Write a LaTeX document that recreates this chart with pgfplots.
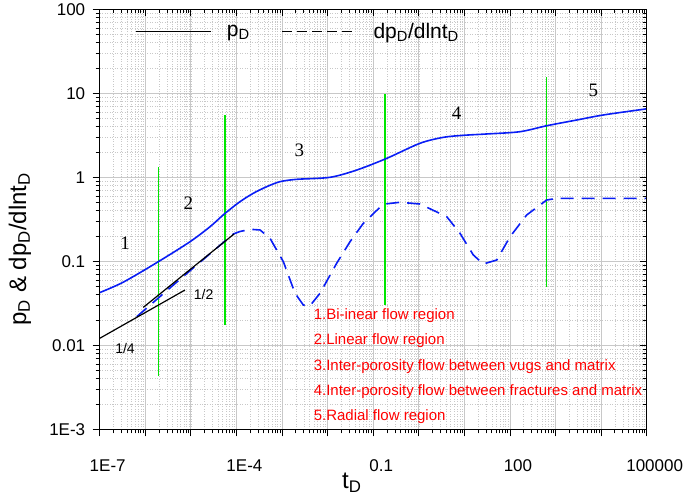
\documentclass[border=0pt]{standalone}
\usepackage{pgfplots}
\pgfplotsset{compat=1.18}
\usepackage{fontspec}
\setmainfont{Liberation Sans}
\newfontfamily\seriffont{Liberation Serif}
\definecolor{curveblue}{RGB}{10,30,245}
\definecolor{vgreen}{RGB}{0,230,0}
\definecolor{majgrid}{RGB}{200,200,200}
\definecolor{mingrid}{RGB}{200,200,200}
\definecolor{annred}{RGB}{255,0,0}
\begin{document}
\begin{tikzpicture}
\useasboundingbox (-99.7pt,-65.7pt) rectangle (585.3pt,429.3pt);
\begin{axis}[
  xmode=log, ymode=log,
  scale only axis, width=547pt, height=420pt,
  xmin=1e-7, xmax=1e5, ymin=1e-3, ymax=100,
  xtick={1e-7,1e-6,1e-5,1e-4,1e-3,1e-2,1e-1,1,10,100,1000,1e4,1e5},
  xticklabels={1E-7,,,1E-4,,,0.1,,,100,,,100000},
  ytick={1e-3,1e-2,1e-1,1,10,100},
  yticklabels={1E-3,0.01,0.1,1,10,100},
  tick align=outside, xtick pos=bottom, ytick pos=left,
  major tick length=7pt, minor tick length=4pt,
  tick style={black, line width=0.8pt},
  axis line style={black, line width=1pt},
  grid=both,
  major grid style={majgrid, line width=0.8pt},
  minor grid style={mingrid, line width=0.5pt, dotted},
  ticklabel style={font=\fontsize{17}{20}\selectfont},
  xticklabel style={yshift=-20pt, xshift=8pt},
  yticklabel style={xshift=-4pt},
  xlabel={t\textsubscript{D}},
  ylabel={p\textsubscript{D} \& dp\textsubscript{D}/dlnt\textsubscript{D}},
  label style={font=\fontsize{24}{28}\selectfont},
  xlabel style={at={(axis description cs:0.461,-0.128)}, anchor=center},
  ylabel style={at={(axis description cs:-0.1457,0.429)}, anchor=center},
  legend image code/.code={\draw[#1] (0pt,0pt) -- (75pt,0pt);},
  legend columns=2,
  legend style={draw=none, fill=none, font=\fontsize{21}{24}\selectfont,
    at={(rel axis cs:0.0645,0.9467)}, anchor=west, inner sep=0pt,
    /tikz/every odd column/.append style={column sep=14pt},
    /tikz/every even column/.append style={column sep=30pt}},
]
% green region separators
\addplot[vgreen, line width=1.2pt, forget plot] coordinates {(1.97e-6,0.00431) (1.97e-6,1.34)};
\addplot[vgreen, line width=1.5pt, forget plot] coordinates {(5.6e-5,0.01746) (5.6e-5,5.52)};
\addplot[vgreen, line width=1.2pt, forget plot] coordinates {(0.1815,0.0302) (0.1815,9.8)};
\addplot[vgreen, line width=1.2pt, forget plot] coordinates {(641,0.0499) (641,15.5)};
% p_D
\addplot[curveblue, line width=1.6pt, smooth, forget plot] coordinates {
(1e-7,0.0424) (3.30e-7,0.0565) (1.93e-6,0.0989) (9.57e-6,0.171) (2.63e-5,0.258)
(5.61e-5,0.372) (1.20e-4,0.513) (2.34e-4,0.645) (4.61e-4,0.773) (9.03e-4,0.887)
(2.10e-3,0.946) (1.13e-2,1.00) (4.35e-2,1.22) (0.198,1.68) (1.06,2.54)
(3.45,2.99) (9.48,3.16) (30.9,3.28) (166,3.49) (641,4.11) (2920,4.81)
(11190,5.52) (84300,6.45) (1e5,6.55)};
% dp_D/dlnt_D
\addplot[curveblue, line width=1.6pt, dash pattern=on 13pt off 8pt, forget plot] coordinates {
(6.49e-7,0.0219) (7.43e-6,0.0687) (8.53e-5,0.2113) (1.20e-4,0.2264) (1.99e-4,0.2404)
(3.29e-4,0.236) (5.45e-4,0.188) (1.07e-3,0.0989) (1.93e-3,0.0416) (2.93e-3,0.0302)
(4.11e-3,0.0296) (6.81e-3,0.0416) (0.0158,0.0947) (0.0310,0.171) (0.0607,0.283)
(0.141,0.440) (0.1816,0.481) (0.387,0.504) (1.06,0.481) (4.10,0.340) (8.04,0.215)
(15.7,0.119) (26.0,0.0929) (51.3,0.1036) (100.4,0.196) (233,0.356) (641,0.537)
(1063,0.562) (1e5,0.562)};
% slope lines
\addplot[black, line width=1.2pt, forget plot] coordinates {(1.0e-7,0.0121) (7.43e-6,0.0455)};
\addplot[black, line width=1.2pt, forget plot] coordinates {(9.06e-7,0.0283) (8.85e-5,0.2113)};
\addlegendimage{black, line width=0.8pt}
\addlegendentry{p\textsubscript{D}}
\addlegendimage{black, line width=0.8pt, dash pattern=on 10pt off 5pt}
\addlegendentry{dp\textsubscript{D}/dlnt\textsubscript{D}}
% labels
\node[font=\fontsize{14}{16}\selectfont] at (rel axis cs:0.0463,0.1931) {1/4};
\node[font=\fontsize{14}{16}\selectfont] at (rel axis cs:0.190,0.320) {1/2};
\node[font=\seriffont\fontsize{19}{22}\selectfont] at (rel axis cs:0.0463,0.4431) {1};
\node[font=\seriffont\fontsize{19}{22}\selectfont] at (rel axis cs:0.162,0.538) {2};
\node[font=\seriffont\fontsize{19}{22}\selectfont] at (rel axis cs:0.365,0.665) {3};
\node[font=\seriffont\fontsize{19}{22}\selectfont] at (rel axis cs:0.6527,0.7524) {4};
\node[font=\seriffont\fontsize{19}{22}\selectfont] at (rel axis cs:0.9024,0.806) {5};
\begin{scope}[every node/.style={font=\fontsize{15}{18}\selectfont, text=annred, anchor=base west, inner sep=0pt}]
\node at (rel axis cs:0.391,0.2612) {1.Bi-inear flow region};
\node at (rel axis cs:0.391,0.2010) {2.Linear flow region};
\node at (rel axis cs:0.391,0.1410) {3.Inter-porosity flow between vugs and matrix};
\node at (rel axis cs:0.391,0.0807) {4.Inter-porosity flow between fractures and matrix};
\node at (rel axis cs:0.391,0.0198) {5.Radial flow region};
\end{scope}
\end{axis}
\begin{axis}[
  xmode=log, ymode=log,
  scale only axis, width=547pt, height=420pt,
  xmin=1e-7, xmax=1e5, ymin=1e-3, ymax=100,
  xtick={1e-7,1e-6,1e-5,1e-4,1e-3,1e-2,1e-1,1,10,100,1000,1e4,1e5},
  ytick={1e-3,1e-2,1e-1,1,10,100},
  xticklabels={}, yticklabels={},
  tick align=inside, xtick pos=top, ytick pos=right,
  major tick length=7pt, minor tick length=4pt,
  tick style={black, line width=0.8pt},
  axis line style={black, line width=1pt},
]
\end{axis}
\end{tikzpicture}
\end{document}
